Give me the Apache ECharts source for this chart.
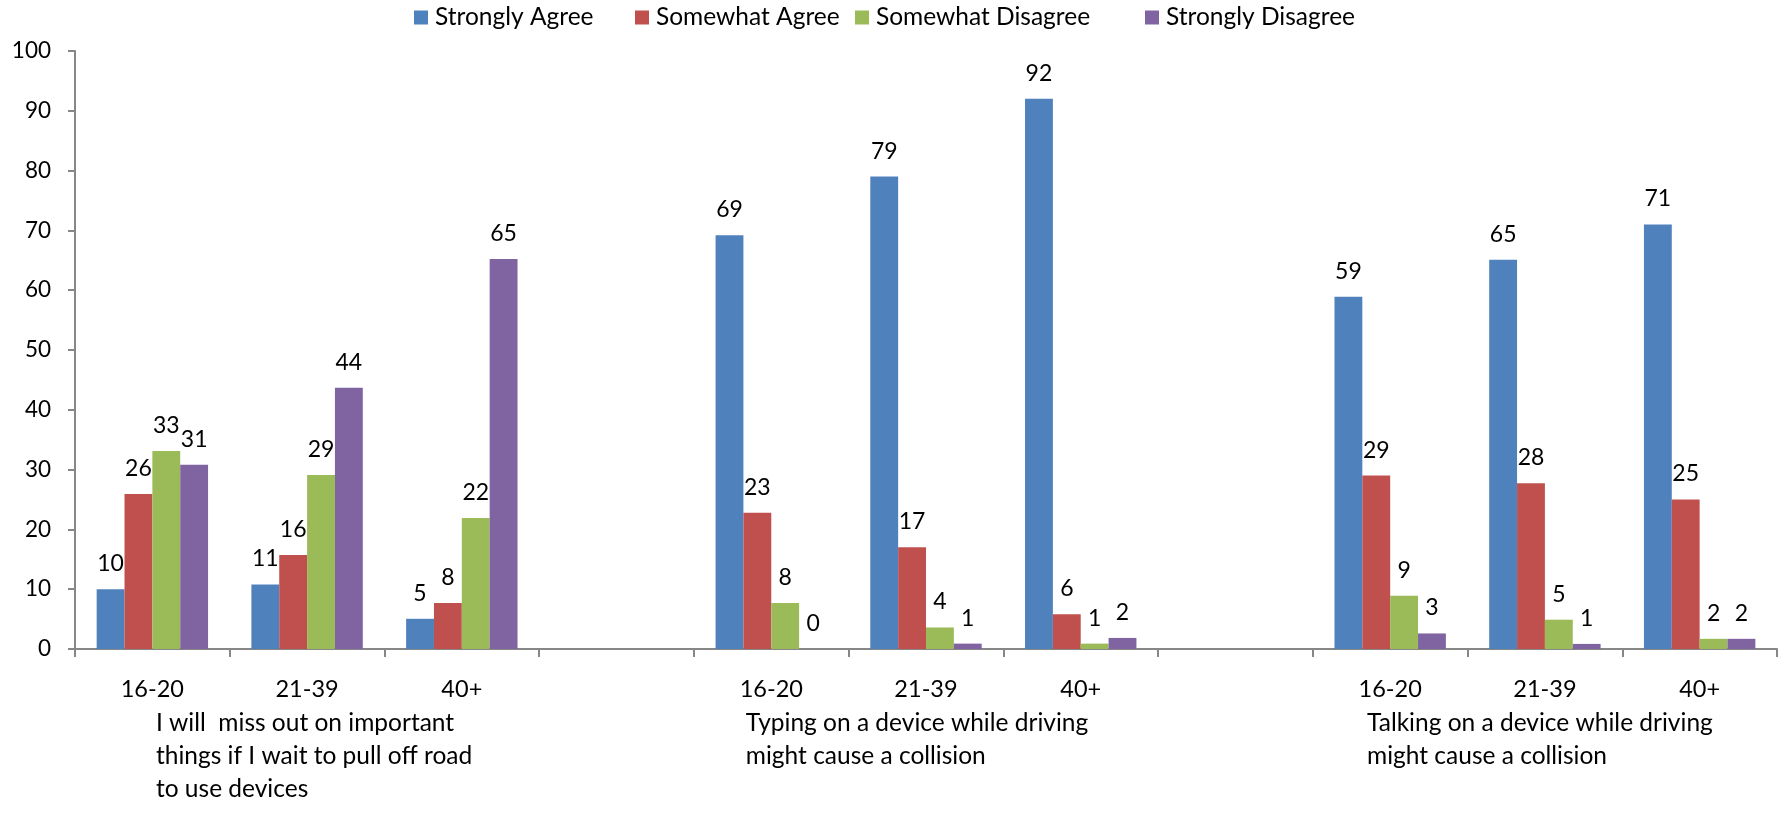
<!DOCTYPE html>
<html>
<head>
<meta charset="utf-8">
<script src="https://cdn.jsdelivr.net/npm/echarts@6/dist/echarts.min.js"></script>
<style>
html,body{margin:0;padding:0;background:#fff;}
#chart{width:1785px;height:828px;}
</style>
</head>
<body>
<div id="chart"></div>
<script>
// ---- data ----
const categories = ['16-20', '21-39', '40+', '', '16-20', '21-39', '40+', '', '16-20', '21-39', '40+'];
const groupLabels = ['', 'I will  miss out on important\nthings if I wait to pull off road\nto use devices', '', '', '',
  'Typing on a device while driving\nmight cause a collision', '', '', '',
  'Talking on a device while driving\nmight cause a collision', ''];
const seriesNames = ['Strongly Agree', 'Somewhat Agree', 'Somewhat Disagree', 'Strongly Disagree'];
const stronglyAgree    = [10.0, 10.8, 5.05, null, 69.2, 79.0, 92.0, null, 58.9, 65.1, 71.0];
const somewhatAgree    = [25.9, 15.7, 7.7, null, 22.8, 17.0, 5.8, null, 29.0, 27.7, 25.0];
const somewhatDisagree = [33.1, 29.1, 21.9, null, 7.7, 3.6, 0.9, null, 8.9, 4.9, 1.7];
const stronglyDisagree = [30.8, 43.7, 65.2, null, 0, 0.9, 1.85, null, 2.6, 0.85, 1.7];
const yTicks = {min: 0, max: 100, interval: 10};

// ---- styles ----
const colors = ['#4F81BD', '#C0504D', '#9BBB59', '#8064A2'];
const FONT = 'Lato, "Liberation Sans", sans-serif';
const axisGray = '#878787';
const values = [stronglyAgree, somewhatAgree, somewhatDisagree, stronglyDisagree];
const legendLeft = [409, 630, 850, 1140];
// per-label padding used to nudge the statement blocks
const groupPad = {1: [0, 0, 0, 14], 5: [0, 18, 0, 0], 9: [0, 10, 0, 0]};

const chart = echarts.init(document.getElementById('chart'), null, {renderer: 'canvas'});

const groupData = groupLabels.map((v, i) => groupPad[i] ? {value: v, textStyle: {padding: groupPad[i]}} : v);

const option = {
  animation: false,
  backgroundColor: '#ffffff',
  textStyle: {fontFamily: FONT, color: '#000'},
  legend: seriesNames.map((n, i) => ({
    data: [n],
    left: legendLeft[i],
    top: 0,
    itemWidth: 14,
    itemHeight: 14,
    icon: 'rect',
    textStyle: {fontFamily: FONT, fontSize: 24.5, color: '#000', padding: [0, 0, 0, 2]}
  })),
  grid: {left: 75, right: 8, top: 51, bottom: 179, containLabel: false},
  xAxis: [{
    type: 'category',
    data: categories,
    position: 'bottom',
    axisLine: {lineStyle: {color: axisGray, width: 2}},
    axisTick: {show: true, interval: 0, length: 8, lineStyle: {color: axisGray, width: 2}},
    axisLabel: {interval: 0, margin: 28, fontSize: 23.5, color: '#000', fontFamily: FONT}
  }, {
    type: 'category',
    data: groupData,
    position: 'bottom',
    axisLine: {show: false},
    axisTick: {show: false},
    axisLabel: {
      interval: 0, margin: 58, color: '#000', fontFamily: FONT, fontSize: 24.5,
      formatter: v => v ? v.split('\n').map(s => '{l|' + s + '}').join('\n') : '',
      rich: {l: {align: 'left', fontSize: 24.5, lineHeight: 33, fontFamily: FONT, color: '#000'}}
    }
  }],
  yAxis: {
    type: 'value',
    min: yTicks.min, max: yTicks.max, interval: yTicks.interval,
    splitLine: {show: false},
    axisLine: {show: true, lineStyle: {color: axisGray, width: 2}},
    axisTick: {show: true, length: 7, lineStyle: {color: axisGray, width: 2}},
    axisLabel: {margin: 24, fontSize: 22.5, color: '#000', fontFamily: FONT}
  },
  series: seriesNames.map((n, i) => ({
    name: n,
    type: 'bar',
    xAxisIndex: 0,
    data: values[i],
    barGap: '0%',
    barCategoryGap: '28%',
    itemStyle: {color: colors[i]},
    label: {
      show: true, position: 'top', distance: 14,
      fontSize: 23, color: '#000', fontFamily: FONT,
      formatter: p => (p.value == null ? '' : String(Math.round(p.value)))
    }
  }))
};
chart.setOption(option);
</script>
</body>
</html>
